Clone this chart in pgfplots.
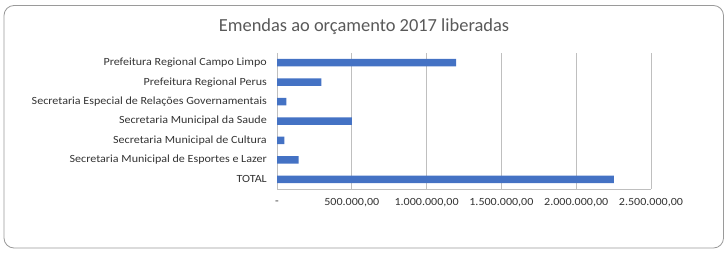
\documentclass[border=0pt]{standalone}
\usepackage{pgfplots}
\pgfplotsset{compat=1.18}
\usepackage{fontspec}
\setmainfont{Carlito}
\newfontfamily\lab[FakeStretch=1.1]{Carlito}
\definecolor{txt}{HTML}{595959}
\definecolor{labc}{HTML}{333333}
\definecolor{gridc}{HTML}{BFBFBF}
\definecolor{barc}{HTML}{4472C4}
\definecolor{frame}{HTML}{9A9A9A}
\begin{document}
\begin{tikzpicture}[x=1bp,y=1bp]
\path[use as bounding box] (0,0) rectangle (728,254);
\draw[frame, rounded corners=10bp, line width=0.8bp] (4,6) rectangle (723.5,248.5);
\node[text=txt, font=\fontsize{18.5}{20}\selectfont] at (364,227.5) {Emendas ao orçamento 2017 liberadas};
\begin{axis}[
  at={(277bp,65bp)}, anchor=south west,
  scale only axis, width=374bp, height=136bp,
  xbar, bar width=7.5bp,
  xmin=0, xmax=2500000,
  ymin=-0.5, ymax=6.5, y dir=reverse,
  ytick={0,...,6},
  yticklabels={Prefeitura Regional Campo Limpo, Prefeitura Regional Perus, Secretaria Especial de Relações Governamentais, Secretaria Municipal da Saude, Secretaria Municipal de Cultura, Secretaria Municipal de Esportes e Lazer, TOTAL},
  xtick={0,500000,1000000,1500000,2000000,2500000},
  xticklabels={{-},{500.000,00},{1.000.000,00},{1.500.000,00},{2.000.000,00},{2.500.000,00}},
  scaled x ticks=false,
  major tick length=0pt,
  axis x line*=bottom, axis y line*=left,
  axis line style={gridc, line width=0.8bp, -},
  xmajorgrids, grid style={gridc, line width=0.8bp},
  yticklabel style={anchor=east, inner sep=0pt, xshift=-10bp, text=labc, font=\lab\fontsize{11}{12}\selectfont},
  xticklabel style={anchor=center, inner sep=0pt, yshift=-14bp, text=labc, font=\lab\fontsize{11}{12}\selectfont},
  /pgf/number format/assume math mode=true,
  clip=false,
]
\addplot[fill=barc, draw=none] coordinates {
(1198000,0) (296000,1) (63000,2) (500000,3) (49000,4) (145000,5) (2251000,6)};
\end{axis}
\end{tikzpicture}
\end{document}
